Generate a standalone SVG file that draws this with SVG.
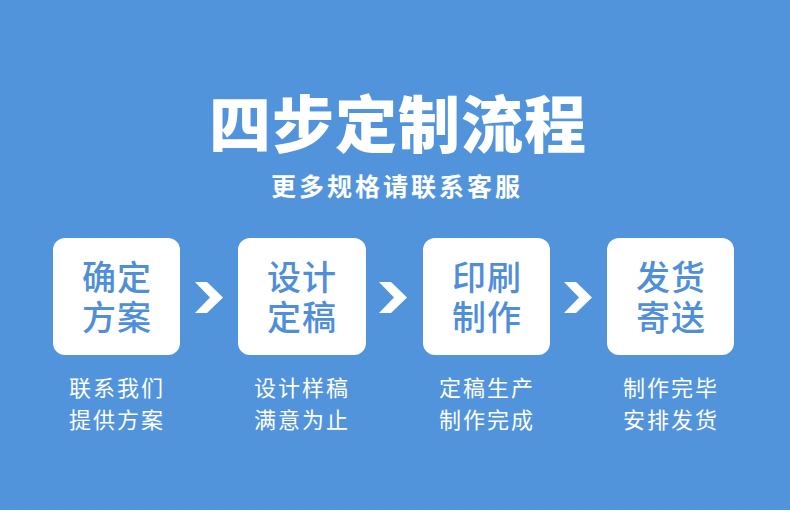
<svg xmlns="http://www.w3.org/2000/svg" width="790" height="527" viewBox="0 0 790 527">
<style>
.t{font-family:"Noto Sans CJK SC","Noto Sans",sans-serif;text-anchor:middle}
.title{font-size:62px;font-weight:900;fill:#fff;letter-spacing:1px}
.sub{font-size:25px;font-weight:700;fill:#fff;letter-spacing:3px}
.box{fill:#fff}
.bt{font-size:34px;font-weight:500;fill:#4f8ed8;letter-spacing:1px}
.cap{font-size:22px;font-weight:400;fill:#fff;letter-spacing:2px}
.chev{fill:#fff}
</style>
<rect x="0" y="0" width="790" height="510" fill="#5294dc"/>
<rect x="0" y="510" width="790" height="17" fill="#fff"/>
<text class="t title" x="398" y="148">四步定制流程</text>
<text class="t sub" x="397" y="196">更多规格请联系客服</text>
<g id="step1">
<rect class="box" x="53" y="238" width="127" height="117" rx="12"/>
<text class="t bt" x="117" y="290">确定</text>
<text class="t bt" x="117" y="330">方案</text>
<text class="t cap" x="117" y="396">联系我们</text>
<text class="t cap" x="117" y="428">提供方案</text>
</g>
<g id="step2">
<rect class="box" x="238" y="238" width="128" height="117" rx="12"/>
<text class="t bt" x="302" y="290">设计</text>
<text class="t bt" x="302" y="330">定稿</text>
<text class="t cap" x="302" y="396">设计样稿</text>
<text class="t cap" x="302" y="428">满意为止</text>
</g>
<g id="step3">
<rect class="box" x="423" y="238" width="127" height="117" rx="12"/>
<text class="t bt" x="487" y="290">印刷</text>
<text class="t bt" x="487" y="330">制作</text>
<text class="t cap" x="487" y="396">定稿生产</text>
<text class="t cap" x="487" y="428">制作完成</text>
</g>
<g id="step4">
<rect class="box" x="607" y="238" width="127" height="117" rx="12"/>
<text class="t bt" x="671" y="290">发货</text>
<text class="t bt" x="671" y="330">寄送</text>
<text class="t cap" x="671" y="396">制作完毕</text>
<text class="t cap" x="671" y="428">安排发货</text>
</g>
<g id="connectors">
<polygon class="chev" points="195,282 207,282 223,297.5 207,313 195,313 210,297.5"/>
<polygon class="chev" points="379,282 391,282 407,297.5 391,313 379,313 394,297.5"/>
<polygon class="chev" points="564,282 576,282 592,297.5 576,313 564,313 579,297.5"/>
</g>
</svg>
